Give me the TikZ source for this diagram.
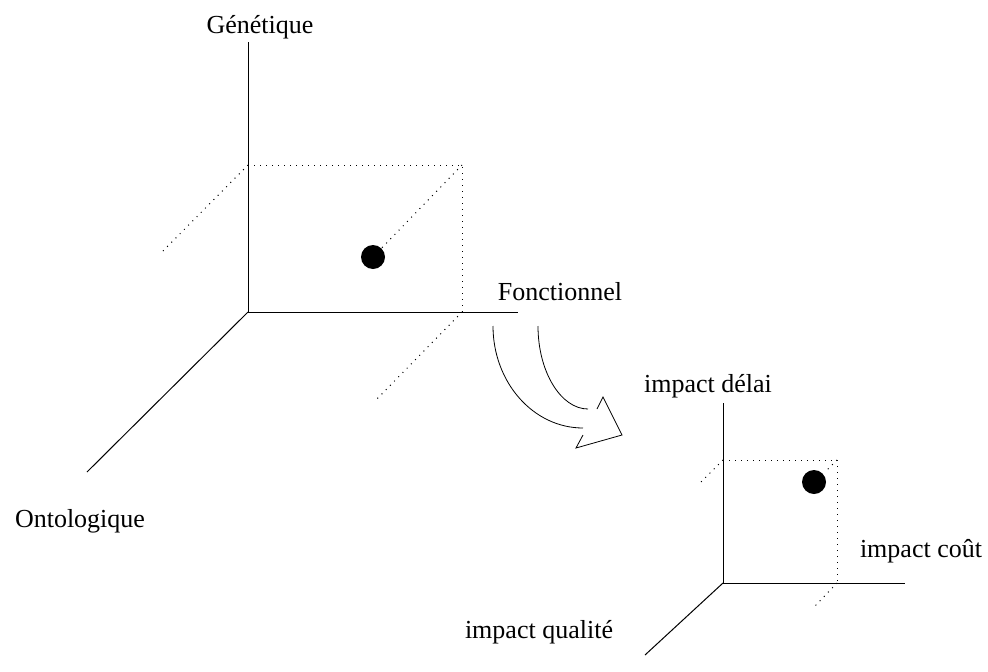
\documentclass[tikz,border=0pt]{standalone}
\usepackage{fontspec}
\setmainfont{Liberation Serif}
\usepackage{tikz}

\tikzset{
  axe/.style={line width=1pt},
  proj/.style={line width=1pt,dash pattern=on 1pt off 5pt},
  pt/.style={circle,fill=black,inner sep=0pt,minimum size=24pt},
  lab/.style={anchor=base,inner sep=0pt,font=\fontsize{26}{30}\selectfont}
}

\begin{document}
\begin{tikzpicture}[x=1pt,y=-1pt]
  \useasboundingbox (0,0) rectangle (988,672);
  % grand repere
  \coordinate (O) at (248,312);
  \coordinate (G) at (248,42);
  \coordinate (F) at (518,312);
  \coordinate (Ot) at (87,472);
  \coordinate (Gh) at (248,165);
  \coordinate (GF) at (462,165);
  \coordinate (Fh) at (462,312);
  \node[pt] (p) at (373,257) {};
  \draw[axe] (G) -- (O) -- (F);
  \draw[axe] (O) -- (Ot);
  \draw[proj] (Gh) -- (GF) -- (Fh);
  \draw[proj] (Gh) -- (160,254);
  \draw[proj] (GF) -- (p);
  \draw[proj] (Fh) -- (374,402);
  \node[lab] (gen) at (260,33) {Génétique};
  \node[lab] (fon) at (560,300) {Fonctionnel};
  \node[lab] (ont) at (80,527) {Ontologique};
  % fleche
  \draw[line width=0.8pt] (493,326) .. controls (493,382) and (533,428) .. (583,428);
  \draw[line width=0.8pt] (538,326) .. controls (538,372) and (561,409) .. (588,409);
  \draw[line width=0.8pt] (597,409) -- (603,397) -- (622,435) -- (576,448) -- (583,435);
  % petit repere
  \coordinate (o) at (723,583);
  \coordinate (d) at (723,403);
  \coordinate (c) at (905,583);
  \coordinate (q) at (645,655);
  \coordinate (dh) at (723,460);
  \coordinate (dc) at (837,460);
  \coordinate (ch) at (837,583);
  \node[pt] (p2) at (814,482) {};
  \draw[axe] (d) -- (o) -- (c);
  \draw[axe] (o) -- (q);
  \draw[proj] (dh) -- (dc) -- (ch);
  \draw[proj] (dh) -- (701,482);
  \draw[proj] (dc) -- (826,471);
  \draw[proj] (ch) -- (815,606);
  \node[lab] (del) at (708,392) {impact délai};
  \node[lab] (cou) at (921,557) {impact coût};
  \node[lab] (qua) at (539,638) {impact qualité};
\end{tikzpicture}
\end{document}
